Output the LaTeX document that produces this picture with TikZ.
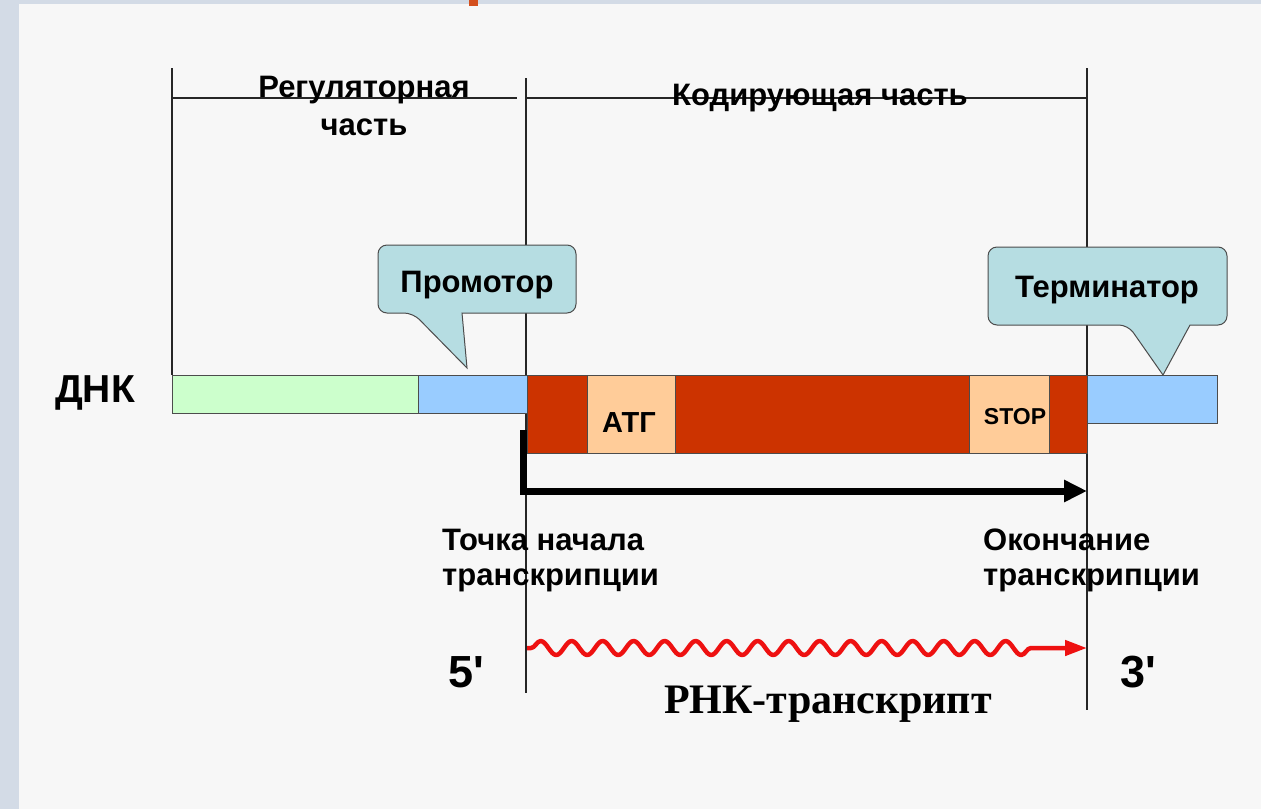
\documentclass[tikz,border=0pt]{standalone}
\usepackage{fontspec}
\setmainfont{Liberation Sans}
\newfontfamily\timesf{Liberation Serif}
\usetikzlibrary{arrows.meta,decorations.pathmorphing}
\definecolor{bgc}{HTML}{F7F7F7}
\definecolor{stripc}{HTML}{D3DBE6}
\definecolor{grn}{HTML}{CCFFCC}
\definecolor{blu}{HTML}{99CCFF}
\definecolor{rdbar}{HTML}{CC3300}
\definecolor{beige}{HTML}{FFCC99}
\definecolor{callc}{HTML}{B6DDE2}
\definecolor{markc}{HTML}{D4501E}
\definecolor{wavec}{HTML}{EE1111}
\begin{document}
\begin{tikzpicture}[x=1pt,y=-1pt,
  guide/.style={line width=1.2pt, draw=black!85},
  seg/.style={draw=black!70, line width=1pt, anchor=north west, inner sep=0pt, outer sep=0pt},
  lbl/.style={font=\bfseries\fontsize{31}{35}\selectfont, inner sep=0pt},
  call/.style={fill=callc, draw=black!70, line width=1pt},
]
\useasboundingbox (0,0) rectangle (1261,809);
% background
\fill[bgc] (0,0) rectangle (1261,809);
\fill[stripc] (0,0) rectangle (19,809);
\fill[stripc] (0,0) rectangle (1261,4);
\fill[markc] (469,0) rectangle (478,6);

% guide coordinates
\coordinate (vL0) at (172,68);  \coordinate (vL1) at (172,375);
\coordinate (vM0) at (526,78);  \coordinate (vM1) at (526,693);
\coordinate (vR0) at (1087,68); \coordinate (vR1) at (1087,710);
\coordinate (hA0) at (172,98);  \coordinate (hA1) at (517,98);
\coordinate (hB0) at (527,98);  \coordinate (hB1) at (1087,98);
\draw[guide] (vL0) -- (vL1);
\draw[guide] (vM0) -- (vM1);
\draw[guide] (vR0) -- (vR1);
\draw[guide] (hA0) -- (hA1);
\draw[guide] (hB0) -- (hB1);

% header labels
\node[lbl, align=center, anchor=base, font=\bfseries\fontsize{31}{38}\selectfont] (reg) at (364,135) {Регуляторная\\часть};
\node[lbl, anchor=base] (cod) at (820,105) {Кодирующая часть};

% DNA segments
\node[seg, fill=grn, minimum width=246pt, minimum height=38pt] (green) at (172,375) {};
\node[seg, fill=blu, minimum width=109pt, minimum height=38pt] (bluL) at (418,375) {};
\node[seg, fill=rdbar, minimum width=560pt, minimum height=78pt] (red) at (527,375) {};
\node[seg, fill=beige, minimum width=88pt, minimum height=78pt] (atgbox) at (587,375) {};
\node[seg, fill=beige, minimum width=80pt, minimum height=78pt] (stopbox) at (969,375) {};
\node[seg, fill=blu, minimum width=130pt, minimum height=48pt] (bluR) at (1087,375) {};
\node[lbl, font=\bfseries\fontsize{29}{33}\selectfont, anchor=base] (atg) at (629,432) {АТГ};
\node[lbl, font=\bfseries\fontsize{23}{27}\selectfont, anchor=base] (stop) at (1015,424) {STOP};
\node[lbl, font=\bfseries\fontsize{39}{43}\selectfont, anchor=base west] (dnk) at (55,402) {ДНК};

% callouts
\draw[call, rounded corners=9pt] (462,313) -- (576,313) -- (576,245) -- (378,245) -- (378,313) -- (413,313) [sharp corners] -- (467,368) -- cycle;
\node[lbl, anchor=base] (prom) at (477,292) {Промотор};
\draw[call, rounded corners=9pt] (1190,325) -- (1227,325) -- (1227,247) -- (988,247) -- (988,325) -- (1128,325) [sharp corners] -- (1163,375) -- cycle;
\node[lbl, anchor=base] (term) at (1107,297) {Терминатор};

% transcription arrow
\coordinate (t0) at (523,430);
\coordinate (t1) at (523,491);
\coordinate (t2) at (1087,491);
\draw[line width=7pt, -{Triangle[length=23pt,width=21pt]}] (t0) -- (t1) -- (t2);

% labels under
\node[lbl, align=left, anchor=base west] (start) at (442,585) {Точка начала\\транскрипции};
\node[lbl, align=left, anchor=base west] (end) at (983,585) {Окончание\\транскрипции};

% RNA transcript
\coordinate (w0) at (527,648);
\coordinate (w1) at (1087,648);
\draw[wavec, line width=4.5pt, line join=round, decorate, decoration={snake, amplitude=7pt, segment length=31pt, pre length=4pt, post length=42pt}, -{Triangle[length=22pt,width=15pt]}] (w0) -- (w1);
\node[lbl, font=\bfseries\fontsize{45}{50}\selectfont, anchor=base west] (five) at (448,687) {5\textquotesingle};
\node[lbl, font=\bfseries\fontsize{45}{50}\selectfont, anchor=base west] (three) at (1120,687) {3\textquotesingle};
\node[inner sep=0pt, anchor=base, font=\timesf\bfseries\fontsize{42}{46}\selectfont] (rna) at (828,713) {РНК-транскрипт};
\end{tikzpicture}
\end{document}
